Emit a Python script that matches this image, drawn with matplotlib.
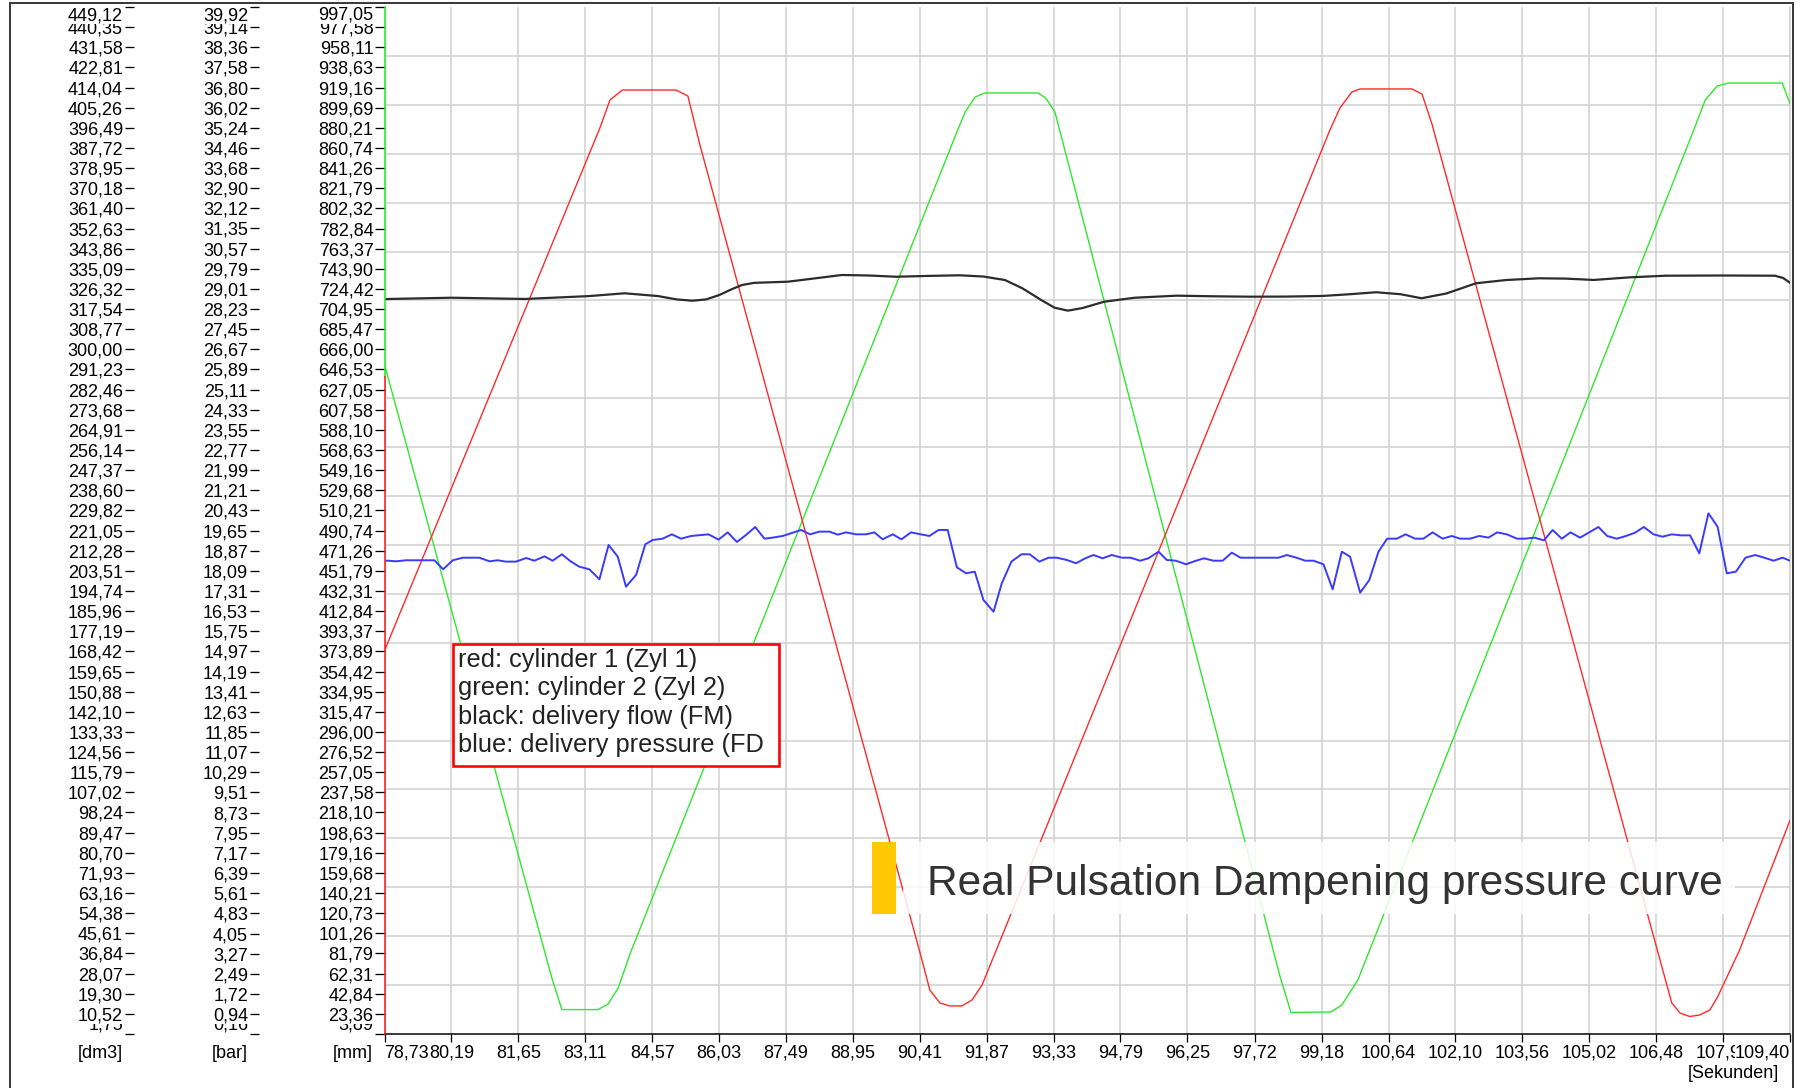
import matplotlib
matplotlib.use("Agg")
import matplotlib.pyplot as plt
from matplotlib.patches import Rectangle
from matplotlib.lines import Line2D

plt.rcParams['font.family'] = ['Liberation Sans', 'DejaVu Sans']

# ---------------- data ----------------
x_tick_labels = ["78,73", "80,19", "81,65", "83,11", "84,57", "86,03", "87,49", "88,95",
                 "90,41", "91,87", "93,33", "94,79", "96,25", "97,72", "99,18", "100,64",
                 "102,10", "103,56", "105,02", "106,48", "107,94", "109,40"]

dm3_labels = ["449,12", "440,35", "431,58", "422,81", "414,04", "405,26", "396,49", "387,72",
              "378,95", "370,18", "361,40", "352,63", "343,86", "335,09", "326,32", "317,54",
              "308,77", "300,00", "291,23", "282,46", "273,68", "264,91", "256,14", "247,37",
              "238,60", "229,82", "221,05", "212,28", "203,51", "194,74", "185,96", "177,19",
              "168,42", "159,65", "150,88", "142,10", "133,33", "124,56", "115,79", "107,02",
              "98,24", "89,47", "80,70", "71,93", "63,16", "54,38", "45,61", "36,84",
              "28,07", "19,30", "10,52", "1,75"]

bar_labels = ["39,92", "39,14", "38,36", "37,58", "36,80", "36,02", "35,24", "34,46",
              "33,68", "32,90", "32,12", "31,35", "30,57", "29,79", "29,01", "28,23",
              "27,45", "26,67", "25,89", "25,11", "24,33", "23,55", "22,77", "21,99",
              "21,21", "20,43", "19,65", "18,87", "18,09", "17,31", "16,53", "15,75",
              "14,97", "14,19", "13,41", "12,63", "11,85", "11,07", "10,29", "9,51",
              "8,73", "7,95", "7,17", "6,39", "5,61", "4,83", "4,05", "3,27",
              "2,49", "1,72", "0,94", "0,16"]

mm_labels = ["997,05", "977,58", "958,11", "938,63", "919,16", "899,69", "880,21", "860,74",
             "841,26", "821,79", "802,32", "782,84", "763,37", "743,90", "724,42", "704,95",
             "685,47", "666,00", "646,53", "627,05", "607,58", "588,10", "568,63", "549,16",
             "529,68", "510,21", "490,74", "471,26", "451,79", "432,31", "412,84", "393,37",
             "373,89", "354,42", "334,95", "315,47", "296,00", "276,52", "257,05", "237,58",
             "218,10", "198,63", "179,16", "159,68", "140,21", "120,73", "101,26", "81,79",
             "62,31", "42,84", "23,36", "3,89"]

unit_labels = ["[dm3]", "[bar]", "[mm]"]
time_unit = "[Sekunden]"

legend_lines = ["red: cylinder 1 (Zyl 1)",
                "green: cylinder 2 (Zyl 2)",
                "black: delivery flow (FM)",
                "blue: delivery pressure (FD"]
annotation_text = "Real Pulsation Dampening pressure curve"

# curves, in units of the [mm] scale
red_x = [78.73, 83.43, 83.65, 83.92, 85.09, 85.35, 85.61, 90.42, 90.63, 90.85, 91.07, 91.33,
         91.55, 91.77, 99.36, 99.58, 99.84, 100.02, 101.15, 101.37, 101.59, 106.56, 106.82,
         107.00, 107.21, 107.43, 107.65, 107.82, 108.30, 109.40]
red_y = [374.6, 880.0, 907.1, 916.8, 916.8, 911.0, 864.2, 81.8, 46.4, 33.9, 31.0, 31.0,
         36.8, 51.3, 878.0, 899.4, 914.9, 917.8, 917.8, 912.9, 883.4, 76.0, 33.9,
         24.2, 20.8, 22.3, 27.1, 39.7, 85.1, 210.5]

green_x = [78.73, 82.38, 82.60, 83.39, 83.61, 83.83, 84.09, 91.18, 91.40, 91.62, 91.83,
           92.99, 93.16, 93.36, 98.27, 98.51, 99.38, 99.62, 99.97, 107.33, 107.55, 107.81,
           108.05, 109.23, 109.40]
green_y = [651.3, 58.4, 27.5, 27.5, 32.9, 48.4, 81.6, 871.7, 895.5, 910.0, 913.9,
           913.9, 909.0, 895.5, 59.9, 24.7, 25.2, 31.9, 56.1, 881.5, 907.1, 920.6,
           923.5, 923.5, 903.7]

black_x = [78.73, 78.83, 80.20, 81.80, 83.20, 83.97, 84.70, 85.10, 85.45, 85.75, 86.04,
           86.30, 86.53, 86.80, 87.53, 88.10, 88.71, 89.30, 89.89, 90.60, 91.28, 91.80,
           92.27, 92.65, 93.06, 93.35, 93.64, 93.95, 94.44, 95.10, 96.02, 96.80, 97.61,
           98.40, 99.19, 99.80, 100.37, 100.90, 101.36, 101.90, 102.55, 103.20, 103.92,
           104.50, 105.12, 105.90, 106.69, 107.90, 109.07, 109.25, 109.40]
black_y = [714.5, 714.7, 715.9, 714.7, 717.5, 720.2, 717.5, 714.3, 713.0, 714.3, 718.6,
           724.0, 728.2, 730.3, 731.4, 734.5, 737.9, 737.4, 736.2, 737.0, 737.6, 736.4,
           733.0, 725.0, 713.7, 706.3, 703.4, 705.8, 712.1, 715.9, 717.9, 717.3, 716.9,
           717.0, 717.6, 719.3, 721.2, 719.3, 715.4, 720.0, 729.9, 733.0, 734.7,
           734.4, 733.1, 735.6, 737.2, 737.4, 737.2, 735.0, 730.4]

blue_x = [78.73, 78.82, 78.98, 79.20, 79.82, 80.01, 80.22, 80.44, 80.80, 81.02, 81.20, 81.38,
          81.60, 81.82, 82.00, 82.22, 82.40, 82.60, 82.80, 82.98, 83.20, 83.42, 83.62,
          83.82, 84.00, 84.22, 84.42, 84.58, 84.80, 85.00, 85.20, 85.42, 85.80, 86.02,
          86.22, 86.42, 86.62, 86.82, 87.02, 87.20, 87.42, 87.64, 87.82, 88.02, 88.22,
          88.44, 88.62, 88.80, 89.02, 89.24, 89.42, 89.60, 89.82, 90.01, 90.22, 90.43,
          90.62, 90.82, 91.02, 91.22, 91.42, 91.61, 91.80, 92.02, 92.20, 92.41, 92.63,
          92.81, 93.02, 93.22, 93.40, 93.62, 93.82, 94.02, 94.20, 94.40, 94.60, 94.82,
          95.01, 95.22, 95.40, 95.62, 95.80, 96.00, 96.22, 96.42, 96.61, 96.82, 97.02,
          97.22, 97.41, 97.62, 97.84, 98.04, 98.24, 98.42, 98.63, 98.82, 99.00, 99.22,
          99.42, 99.62, 99.80, 100.02, 100.22, 100.42, 100.61, 100.82, 101.01, 101.22,
          101.40, 101.60, 101.82, 102.02, 102.20, 102.42, 102.62, 102.82, 103.01, 103.22,
          103.44, 103.62, 103.82, 104.03, 104.22, 104.42, 104.61, 104.82, 105.02, 105.22,
          105.41, 105.62, 105.82, 106.02, 106.21, 106.42, 106.62, 106.82, 107.02, 107.22,
          107.42, 107.62, 107.82, 108.02, 108.22, 108.43, 108.64, 108.84, 109.04, 109.24,
          109.40]
blue_y = [461.6, 461.6, 461.0, 462.0, 462.0, 453.3, 462.0, 464.5, 464.5, 461.0, 462.0, 460.7,
          460.7, 464.2, 461.6, 465.8, 461.6, 467.8, 460.7, 455.8, 453.3, 443.6, 476.8,
          465.5, 436.5, 447.8, 477.4, 481.6, 482.9, 487.1, 482.9, 485.5, 487.1, 482.0,
          489.0, 479.7, 486.5, 494.2, 482.9, 483.9, 485.5, 488.7, 491.3, 487.1, 489.7,
          489.7, 486.8, 489.0, 487.1, 487.1, 489.0, 482.3, 487.1, 482.3, 489.0, 487.1,
          485.5, 491.3, 491.3, 455.2, 449.4, 451.0, 423.6, 412.3, 439.7, 460.7, 467.8,
          467.8, 460.7, 464.5, 464.5, 462.3, 459.1, 463.9, 467.1, 463.9, 467.1, 464.5,
          464.5, 461.6, 463.9, 470.3, 462.3, 461.6, 458.1, 461.3, 463.9, 461.6, 461.6,
          469.4, 464.5, 464.5, 464.5, 464.5, 464.5, 467.1, 464.5, 461.6, 461.6, 458.1,
          433.9, 470.3, 465.5, 430.7, 442.9, 470.3, 482.9, 482.9, 487.1, 482.9,
          482.9, 489.0, 482.9, 485.5, 482.9, 482.9, 485.5, 483.9, 489.0, 487.1,
          482.9, 482.9, 483.9, 481.3, 491.3, 482.9, 489.0, 483.9, 489.0, 494.2,
          485.5, 482.9, 485.5, 488.7, 494.2, 487.1, 484.8, 487.1, 486.1, 486.1,
          468.7, 507.4, 494.5, 449.4, 451.0, 464.5, 467.1, 464.5, 461.6, 464.5,
          461.6]


def num(s):
    return float(s.replace(",", "."))


# ---------------- figure ----------------
W, H = 1803, 1088
fig = plt.figure(figsize=(W / 100, H / 100), dpi=100)
PX = 0.72  # points per pixel at dpi 100

L, R, T, B = 384.5, 1790.0, 7.0, 1034.0
ax = fig.add_axes([L / W, (H - B) / H, (R - L) / W, (B - T) / H])

xt = [num(s) for s in x_tick_labels]
ax.set_xlim(xt[0], xt[-1])

mm_vals = [num(s) for s in mm_labels][::-1]
mm_txt = mm_labels[::-1]
ax.set_ylim(mm_vals[0], mm_vals[-1])

LABEL_FS = 13
GRID_C = "#d2d2d2"

# x ticks + vertical grid
ax.set_xticks(xt)
ax.set_xticklabels(x_tick_labels)
ax.tick_params(axis="x", direction="out", length=8 * PX, width=1.3 * PX, pad=1.5,
               labelsize=LABEL_FS, colors="black")
ax.grid(axis="x", which="major", color=GRID_C, lw=1.6 * PX)

# horizontal grid: 21 divisions of the height
ymin, ymax = mm_vals[0], mm_vals[-1]
hgrid = [ymin + (ymax - ymin) * k / 21 for k in range(1, 21)]
ax.set_yticks(hgrid, minor=True)
ax.tick_params(axis="y", which="minor", length=0)
ax.grid(axis="y", which="minor", color=GRID_C, lw=1.6 * PX)

# main y axis (mm)
ax.set_yticks(mm_vals)
ax.set_yticklabels(mm_txt)
ax.tick_params(axis="y", which="major", direction="out", length=10 * PX, width=1.3 * PX,
               pad=0.8, labelsize=LABEL_FS, colors="black")
ax.set_axisbelow(True)

ax.spines["top"].set_visible(False)
ax.spines["right"].set_color(GRID_C)
ax.spines["right"].set_linewidth(1.6 * PX)
ax.spines["bottom"].set_color("black")
ax.spines["bottom"].set_linewidth(1.5 * PX)
ax.spines["left"].set_visible(False)


def style_ticklabels(axis, first_align, last_align, attr):
    ticks = axis.get_major_ticks()
    for i, t in enumerate(ticks):
        lab = t.label1
        lab.set_bbox(dict(facecolor="white", edgecolor="none", pad=0.0))
        if i == 0:
            lab.set(**{attr: first_align})
        if i == len(ticks) - 1:
            lab.set(**{attr: last_align})


style_ticklabels(ax.xaxis, "left", "right", "horizontalalignment")
style_ticklabels(ax.yaxis, "bottom", "top", "verticalalignment")

# floating secondary scales (dm3, bar)
for labels, xpix, tlen in [(dm3_labels, 133.5, 9), (bar_labels, 258.5, 9)]:
    t = ax.twinx()
    vals = [num(s) for s in labels][::-1]
    txt = labels[::-1]
    t.set_ylim(vals[0], vals[-1])
    t.set_yticks(vals)
    t.set_yticklabels(txt)
    t.yaxis.set_ticks_position("left")
    t.spines["left"].set_position(("axes", (xpix - L) / (R - L)))
    for sp in t.spines.values():
        sp.set_visible(False)
    t.tick_params(axis="y", direction="out", length=tlen * PX, width=1.3 * PX, pad=1.0,
                  labelsize=LABEL_FS, colors="black")
    style_ticklabels(t.yaxis, "bottom", "top", "verticalalignment")

# coloured left spine (green upper part, red lower part)
split = 0.64
ax.plot([0, 0], [split, 1], transform=ax.transAxes, color="#22ee22", lw=1.6 * PX,
        clip_on=False, zorder=5)
ax.plot([0, 0], [0, split], transform=ax.transAxes, color="#ff1a1a", lw=1.6 * PX,
        clip_on=False, zorder=5)

# curves
ax.plot(green_x, green_y, color="#2ee82e", lw=1.0, zorder=3)
ax.plot(red_x, red_y, color="#ff2a2a", lw=1.0, zorder=3)
ax.plot(black_x, black_y, color="#2c2c2c", lw=1.6, zorder=3, solid_joinstyle="round")
ax.plot(blue_x, blue_y, color="#3a3aff", lw=1.4, zorder=3)

# unit labels under the scales
for txt, xr in zip(unit_labels, [123, 248, 373]):
    fig.text(xr / W, 1 - 1053 / H, txt, ha="right", va="center", fontsize=LABEL_FS)
fig.text(1779 / W, 1 - 1073 / H, time_unit, ha="right", va="center", fontsize=LABEL_FS)

# legend box
bx0, bx1, by0, by1 = 453, 779, 644, 766
fig.add_artist(Rectangle((bx0 / W, 1 - by1 / H), (bx1 - bx0) / W, (by1 - by0) / H,
                         transform=fig.transFigure, facecolor="white", edgecolor="#ff0000",
                         lw=2.6 * PX, zorder=10))
for i, line in enumerate(legend_lines):
    fig.text(458 / W, 1 - (660 + i * 28.4) / H, line, ha="left", va="center",
             fontsize=18.3, color="#222222", zorder=11)

# annotation
fig.add_artist(Rectangle((903 / W, 1 - 914 / H), (1735 - 903) / W, 72 / H,
                         transform=fig.transFigure, facecolor="white", edgecolor="none",
                         alpha=0.85, zorder=10))
fig.add_artist(Rectangle((872 / W, 1 - 914 / H), 24 / W, 72 / H,
                         transform=fig.transFigure, facecolor="#ffc800", edgecolor="none",
                         zorder=11))
fig.text(927 / W, 1 - 895 / H, annotation_text, ha="left", va="baseline",
         fontsize=30.6, color="#333333", zorder=12)

# outer frame
for xs, ys in [([10, 10], [3, H]), ([10, 1793], [3, 3]), ([1793, 1793], [3, H])]:
    fig.add_artist(Line2D([x / W for x in xs], [1 - y / H for y in ys],
                          transform=fig.transFigure, color="#3c3c3c", lw=2 * PX))

fig.savefig("out.png", dpi=100, facecolor="white")
